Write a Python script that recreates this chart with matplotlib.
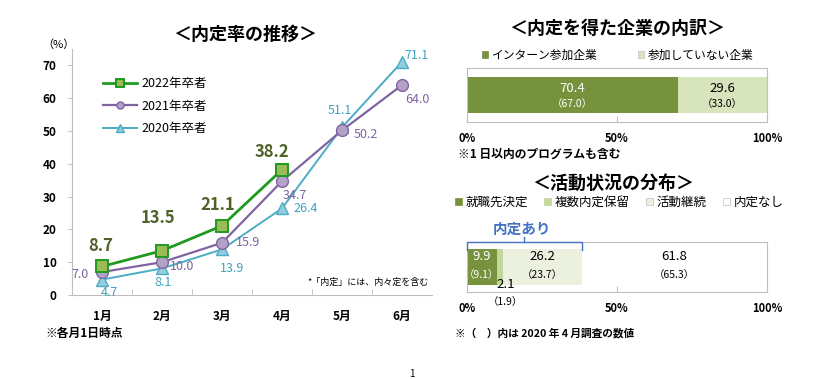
import numpy as np
import matplotlib.pyplot as plt
from matplotlib.patches import Patch

plt.rcParams['font.family'] = ['Noto Sans CJK JP', 'DejaVu Sans']

# ---- data ----
months = ['1月', '2月', '3月', '4月', '5月', '6月']
rate_2022 = [8.7, 13.5, 21.1, 38.2]
rate_2021 = [7.0, 10.0, 15.9, 34.7, 50.2, 64.0]
rate_2020 = [4.7, 8.1, 13.9, 26.4, 51.1, 71.1]
series_names = ['2022年卒者', '2021年卒者', '2020年卒者']

company_cats = ['インターン参加企業', '参加していない企業']
company_now = [70.4, 29.6]
company_prev = [67.0, 33.0]

status_cats = ['就職先決定', '複数内定保留', '活動継続', '内定なし']
status_now = [9.9, 2.1, 26.2, 61.8]
status_prev = [9.1, 1.9, 23.7, 65.3]

pct_ticks = [0, 50, 100]
pct_labels = ['0%', '50%', '100%']

GRAY = '#BFBFBF'

fig = plt.figure(figsize=(8.25, 3.79), dpi=100)

# ---- line chart ----
ax = fig.add_axes([72/825, 84/379, 360/825, 246/379])
x = np.arange(len(months))

# label offsets in pixels (layout only)
off_2022 = [(-1, 20), (-4, 33), (-4, 21), (-10, 18)]
off_2021 = [(-22, -2), (20, -4), (26, 0), (13, -14), (24, -4), (15, -14)]
off_2020 = [(7, -13), (1, -14), (10, -19), (24, 0), (-2, 17), (15, 6)]

ax.plot(x, rate_2020, color='#4BACC6', lw=1.4, marker='^', ms=8.5,
        mfc='#93CDDD', mec='#4BACC6', mew=1.0, zorder=3, label=series_names[2])
ax.plot(x, rate_2021, color='#8064A2', lw=1.6, marker='o', ms=8.5,
        mfc='#B3A2C7', mec='#8064A2', mew=1.0, zorder=4, label=series_names[1])
ax.plot(x[:len(rate_2022)], rate_2022, color='#1F9A1F', lw=2.0, marker='s', ms=8.5,
        mfc='#9BBB59', mec='#1F9A1F', mew=1.4, zorder=5, label=series_names[0])

for xi, v, o in zip(x, rate_2022, off_2022):
    ax.annotate(f'{v:.1f}', (xi, v), xytext=o, textcoords='offset pixels',
                ha='center', va='center', fontsize=12, fontweight='bold', color='#4F6228')
for xi, v, o in zip(x, rate_2021, off_2021):
    ax.annotate(f'{v:.1f}', (xi, v), xytext=o, textcoords='offset pixels',
                ha='center', va='center', fontsize=9, color='#7F64A0')
for xi, v, o in zip(x, rate_2020, off_2020):
    ax.annotate(f'{v:.1f}', (xi, v), xytext=o, textcoords='offset pixels',
                ha='center', va='center', fontsize=9, color='#3FA2BE')

ax.set_xlim(-0.5, 5.5)
ax.set_ylim(0, 75)
ax.set_yticks(range(0, 71, 10))
ax.set_xticks(x)
ax.set_xticklabels(months)
ax.set_xticks(np.arange(0.5, 5, 1), minor=True)
for lab in ax.get_xticklabels() + ax.get_yticklabels():
    lab.set_fontweight('bold')
ax.tick_params(axis='x', which='major', length=0, pad=11, labelsize=8.5)
ax.tick_params(axis='x', which='minor', direction='in', length=4, color=GRAY)
ax.tick_params(axis='y', length=3, color=GRAY, pad=8, labelsize=8.5)
for s in ['top', 'right']:
    ax.spines[s].set_visible(False)
for s in ['left', 'bottom']:
    ax.spines[s].set_color(GRAY)
ax.patch.set_alpha(0)

h, l = ax.get_legend_handles_labels()
leg = ax.legend(h[::-1], l[::-1], loc='upper left', bbox_to_anchor=(0.086, 0.885),
                frameon=False, fontsize=9, handlelength=2.7, handletextpad=0.35,
                labelspacing=0.75, borderpad=0, borderaxespad=0, markerscale=0.6)

ax.text(0.99, 0.05, '*「内定」には、内々定を含む', transform=ax.transAxes,
        ha='right', va='center', fontsize=6.5)
fig.text(58/825, 1 - 45/379, '（%）', ha='center', va='center', fontsize=8)
fig.text(245/825, 1 - 34/379, '＜内定率の推移＞', ha='center', va='center',
         fontsize=13, fontweight='bold')
fig.text(45/825, 1 - 333/379, '※各月1日時点', ha='left', va='center',
         fontsize=8.5, fontweight='bold')
fig.text(412/825, 1 - 374/379, '1', ha='center', va='center', fontsize=7)


def style_bar_axes(a, lo, hi):
    a.set_xlim(0, 100)
    a.set_ylim(lo, hi)
    a.set_yticks([])
    a.set_xticks(pct_ticks)
    a.set_xticklabels(pct_labels, fontsize=8, fontweight='bold')
    a.tick_params(axis='x', direction='in', length=4, color=GRAY, pad=7)
    for s in a.spines.values():
        s.set_color(GRAY)
        s.set_linewidth(0.8)


# ---- company breakdown bar ----
ax2 = fig.add_axes([467/825, 257/379, 300/825, 54/379])
company_colors = ['#76923C', '#D7E4BC']
company_text = ['white', 'black']
left = 0
for cat, v, pv, c, tc in zip(company_cats, company_now, company_prev, company_colors, company_text):
    ax2.barh(0, v, left=left, height=1.0, color=c, label=cat)
    cx = left + v / 2
    ax2.annotate(f'{v:.1f}', (cx, 0), xytext=(0, 7), textcoords='offset pixels',
                 ha='center', va='center', fontsize=9.5, color=tc)
    ax2.annotate(f'（{pv:.1f}）', (cx, 0), xytext=(0, -9), textcoords='offset pixels',
                 ha='center', va='center', fontsize=7.5, color=tc)
    left += v
style_bar_axes(ax2, -0.75, 0.75)
h2 = [Patch(facecolor=c, edgecolor=GRAY if i else c, lw=0.5) for i, c in enumerate(company_colors)]
ax2.legend(h2, company_cats, loc='lower left', bbox_to_anchor=(0.05, 1.12), ncol=2,
           frameon=False, fontsize=8.5, handlelength=0.55, handleheight=0.55,
           handletextpad=0.3, columnspacing=3.4, borderpad=0, borderaxespad=0)
fig.text(617/825, 1 - 28/379, '＜内定を得た企業の内訳＞', ha='center', va='center',
         fontsize=13, fontweight='bold')
fig.text(458/825, 1 - 154/379, '※1 日以内のプログラムも含む', ha='left', va='center',
         fontsize=8.5, fontweight='bold')

# ---- activity status bar ----
ax3 = fig.add_axes([467/825, 87/379, 300/825, 50/379])
status_colors = ['#76923C', '#C3D69B', '#EBF1DE', '#FFFFFF']
status_text = ['white', 'black', 'black', 'black']
status_off = [(0, 0), (6, -27), (0, 0), (0, 0)]
left = 0
for i, (cat, v, pv, c, tc) in enumerate(zip(status_cats, status_now, status_prev,
                                            status_colors, status_text)):
    ax3.barh(0, v, left=left, height=1.0, color=c, label=cat)
    cx = left + v / 2
    dx, dy = status_off[i]
    ax3.annotate(f'{v:.1f}', (cx, 0), xytext=(dx, 10 + dy), textcoords='offset pixels',
                 ha='center', va='center', fontsize=9.5, color=tc)
    ax3.annotate(f'（{pv:.1f}）', (cx, 0), xytext=(dx, -8 + dy), textcoords='offset pixels',
                 ha='center', va='center', fontsize=7.5, color=tc)
    left += v
style_bar_axes(ax3, -0.714, 0.714)

# 内定あり bracket over the first three segments
naitei = sum(status_now[:3])
tr = ax3.get_xaxis_transform()
ax3.plot([0, 0, naitei, naitei], [0.84, 1.0, 1.0, 0.84], color='#4472C4', lw=1.0,
         transform=tr, clip_on=False, zorder=6)
ax3.plot([naitei / 2, naitei / 2], [1.0, 1.1], color='#4472C4', lw=1.0,
         transform=tr, clip_on=False, zorder=6)
ax3.text(naitei / 2 - 0.8, 1.26, '内定あり', transform=tr, ha='center', va='center',
         fontsize=10.5, fontweight='bold', color='#4472C4')

h3 = [Patch(facecolor=c, edgecolor=GRAY if i > 1 else c, lw=0.5) for i, c in enumerate(status_colors)]
ax3.legend(h3, status_cats, loc='lower left', bbox_to_anchor=(-0.04, 1.66), ncol=4,
           frameon=False, fontsize=9, handlelength=0.55, handleheight=0.55,
           handletextpad=0.3, columnspacing=1.3, borderpad=0, borderaxespad=0)
fig.text(613/825, 1 - 183/379, '＜活動状況の分布＞', ha='center', va='center',
         fontsize=13, fontweight='bold')
fig.text(455/825, 1 - 333/379, '※（　）内は 2020 年 4 月調査の数値', ha='left', va='center',
         fontsize=7.7, fontweight='bold')

fig.savefig('out.png', dpi=100)
